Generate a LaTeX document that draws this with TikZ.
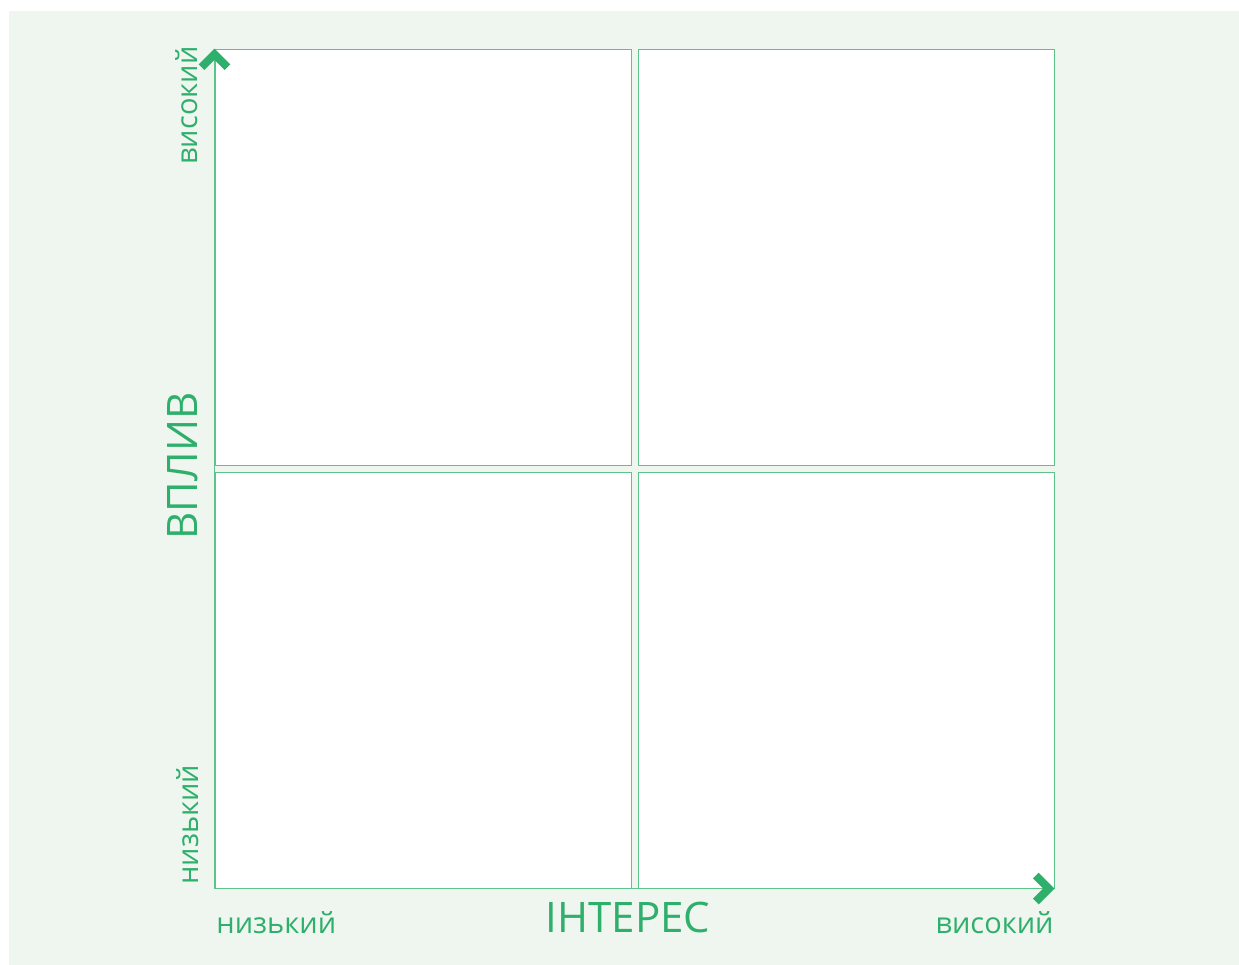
\documentclass[tikz,border=0pt]{standalone}
\usepackage{fontspec}
\setmainfont{Open Sans}
\usetikzlibrary{arrows.meta}
\definecolor{paper}{HTML}{EFF6EF}
\definecolor{leaf}{HTML}{2EAF6B}
\definecolor{rim}{HTML}{5CC48A}

\begin{document}
\begin{tikzpicture}[x=.5pt,y=-.5pt,line join=miter,
  cell/.style={draw=rim,line width=.5pt,fill=white,minimum size=208pt,inner sep=0pt},
  axis/.style={rim,line width=.5pt,-{Straight Barb[length=6.5pt,width=13pt,line width=4pt,color=leaf]}},
  tick/.style={leaf,inner sep=0pt,font=\fontsize{14.5}{17}\selectfont},
  title/.style={leaf,inner sep=0pt,font=\fontsize{21}{25}\selectfont}]
  \useasboundingbox (0,0) rectangle (1239,965);
  \fill[paper] (9,11) rectangle (1239,965);

  % four quadrants
  \node[cell] (tl) at (423,257) {};
  \node[cell] (tr) at (846,257) {};
  \node[cell] (bl) at (423,680) {};
  \node[cell] (br) at (846,680) {};

  % axes
  \draw[axis] (bl.south west) -- (tl.north west);
  \draw[axis] (bl.south west) -- (br.south east);

  % axis titles
  \node[title,anchor=base] (interest) at (628,932) {ІНТЕРЕС};
  \node[title,rotate=90,anchor=base] (influence) at (197,466) {ВПЛИВ};

  % ends of the scales
  \node[tick,anchor=base west] (xlow) at (216,933) {низький};
  \node[tick,anchor=base east] (xhigh) at (1054,933) {високий};
  \node[tick,rotate=90,anchor=base west] (ylow) at (198,885) {низький};
  \node[tick,rotate=90,anchor=base west] (yhigh) at (197,165) {високий};
\end{tikzpicture}
\end{document}
